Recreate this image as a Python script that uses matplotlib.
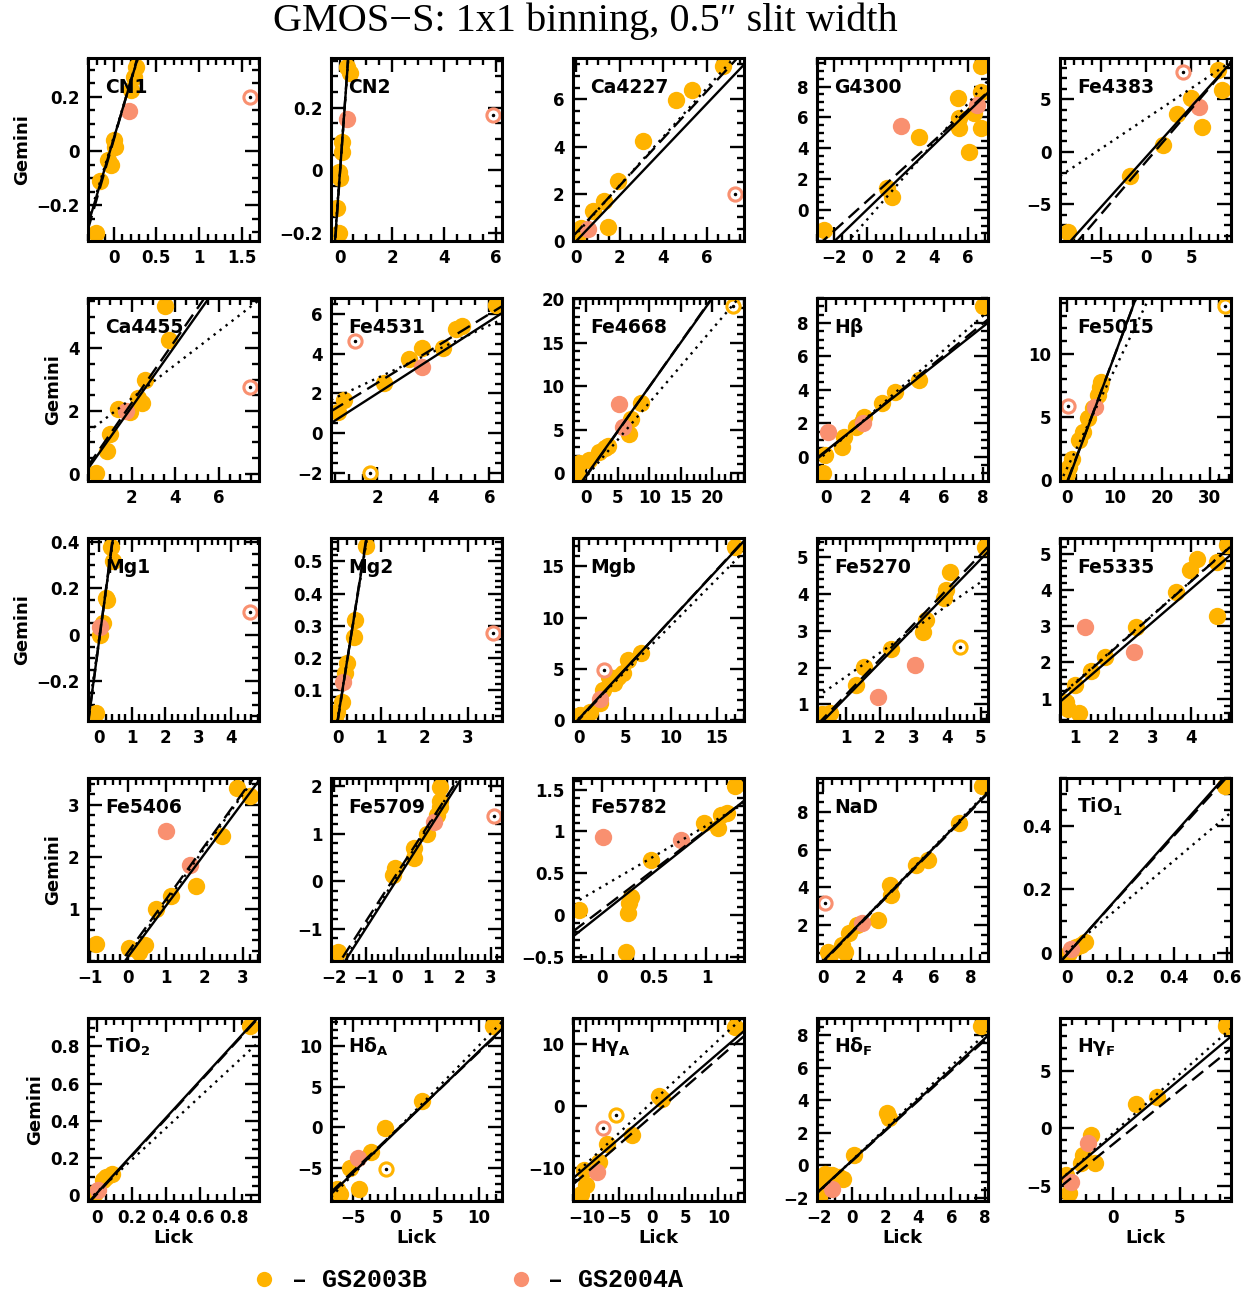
import matplotlib
matplotlib.use("Agg")
import numpy as np
import matplotlib.pyplot as plt
from matplotlib.lines import Line2D
from matplotlib.ticker import AutoMinorLocator, FuncFormatter

# Panel names and axis set-up
names = ["CN1", "CN2", "Ca4227", "G4300", "Fe4383",
         "Ca4455", "Fe4531", "Fe4668", "Hβ", "Fe5015",
         "Mg1", "Mg2", "Mgb", "Fe5270", "Fe5335",
         "Fe5406", "Fe5709", "Fe5782", "NaD", r"TiO$_\mathbf{1}$",
         r"TiO$_\mathbf{2}$", r"Hδ$_\mathbf{A}$", r"Hγ$_\mathbf{A}$", r"Hδ$_\mathbf{F}$", r"Hγ$_\mathbf{F}$"]

xlims = [(-0.3, 1.7), (-0.35, 6.24), (-0.15, 7.7), (-3.0, 7.2), (-9.6, 9.4),
         (0.0, 7.85), (0.35, 6.45), (-2.1, 25.0), (-0.45, 8.25), (-1.4, 34.5),
         (-0.33, 4.83), (-0.17, 3.8), (-0.7, 18.0), (0.13, 5.22), (0.6, 5.05),
         (-1.05, 3.43), (-2.1, 3.35), (-0.28, 1.36), (-0.33, 8.93), (-0.025, 0.615),
         (-0.055, 0.947), (-7.65, 12.75), (-12.0, 13.9), (-2.1, 8.2), (-3.93, 8.83)]
ylims = [(-0.333, 0.344), (-0.225, 0.358), (0.0, 7.75), (-2.0, 9.85), (-8.5, 8.95),
         (-0.23, 5.6), (-2.4, 6.8), (-0.9, 20.15), (-1.45, 9.5), (-0.05, 14.4),
         (-0.37, 0.417), (0.004, 0.573), (-0.07, 17.77), (0.55, 5.52), (0.38, 5.44),
         (0.0, 3.51), (-1.68, 2.17), (-0.55, 1.64), (0.1, 9.79), (-0.025, 0.55),
         (-0.03, 0.953), (-9.1, 13.5), (-15.3, 14.1), (-2.2, 9.07), (-6.3, 9.57)]
xticks = [[0, 0.5, 1, 1.5], [0, 2, 4, 6], [0, 2, 4, 6], [-2, 0, 2, 4, 6], [-5, 0, 5],
          [2, 4, 6], [2, 4, 6], [0, 5, 10, 15, 20], [0, 2, 4, 6, 8], [0, 10, 20, 30],
          [0, 1, 2, 3, 4], [0, 1, 2, 3], [0, 5, 10, 15], [1, 2, 3, 4, 5], [1, 2, 3, 4],
          [-1, 0, 1, 2, 3], [-2, -1, 0, 1, 2, 3], [0, 0.5, 1], [0, 2, 4, 6, 8], [0, 0.2, 0.4, 0.6],
          [0, 0.2, 0.4, 0.6, 0.8], [-5, 0, 5, 10], [-10, -5, 0, 5, 10], [-2, 0, 2, 4, 6, 8], [0, 5]]
yticks = [[-0.2, 0, 0.2], [-0.2, 0, 0.2], [0, 2, 4, 6], [0, 2, 4, 6, 8], [-5, 0, 5],
          [0, 2, 4], [-2, 0, 2, 4, 6], [0, 5, 10, 15, 20], [0, 2, 4, 6, 8], [0, 5, 10],
          [-0.2, 0, 0.2, 0.4], [0.1, 0.2, 0.3, 0.4, 0.5], [0, 5, 10, 15], [1, 2, 3, 4, 5], [1, 2, 3, 4, 5],
          [1, 2, 3], [-1, 0, 1, 2], [-0.5, 0, 0.5, 1, 1.5], [2, 4, 6, 8], [0, 0.2, 0.4],
          [0, 0.2, 0.4, 0.6, 0.8], [-5, 0, 5, 10], [-10, 0, 10], [-2, 0, 2, 4, 6, 8], [-5, 0, 5]]

# GS2003B (Lick, Gemini)
gs03_x = [[-0.21, -0.16, -0.07, -0.035, 0.0, 0.02, 0.2, 0.24, 0.26],
          [-0.06, -0.1, 0.0, -0.05, 0.07, 0.07, 0.26, 0.38],
          [0.1, 0.2, 0.75, 1.28, 1.46, 1.93, 3.06, 4.56, 5.31, 6.75],
          [-2.61, 1.16, 1.5, 3.07, 5.43, 5.48, 5.48, 6.05, 6.34, 6.76, 6.76, 6.76],
          [-8.68, -1.84, 1.84, 3.42, 5.0, 6.16, 7.9, 8.42],
          [0.35, 0.85, 1.0, 1.39, 1.95, 2.29, 2.49, 2.61, 3.53, 3.74],
          [0.61, 0.81, 2.24, 3.15, 3.6, 4.33, 4.81, 5.03, 6.24],
          [-1.5, -1.1, 0.5, 2.0, 2.96, 3.48, 6.81, 7.04, 8.67],
          [-0.17, -0.05, 0.8, 0.93, 1.54, 1.83, 1.95, 2.88, 3.54, 4.76, 8.0],
          [0.0, 0.5, 1.2, 2.5, 3.5, 4.5, 5.5, 6.5, 7.0, 7.2],
          [-0.08, 0.02, 0.12, 0.22, 0.25, 0.35, 0.42],
          [-0.08, -0.04, 0.08, 0.16, 0.19, 0.36, 0.39, 0.64],
          [0.06, 1.19, 2.2, 2.61, 3.22, 3.73, 4.24, 4.75, 5.26, 6.69, 16.98],
          [0.29, 0.53, 1.28, 1.52, 2.33, 3.3, 3.37, 3.9, 3.97, 4.08, 5.12],
          [0.76, 0.82, 0.99, 1.1, 1.41, 1.78, 2.59, 3.62, 3.99, 4.16, 4.68, 4.68, 4.95],
          [-0.84, 0.03, 0.29, 0.44, 0.72, 1.13, 1.79, 2.45, 2.86, 3.19],
          [-1.89, -0.11, -0.05, 0.53, 0.53, 0.96, 1.28, 1.38, 1.36, 1.36],
          [-0.22, 0.23, 0.25, 0.26, 0.28, 0.47, 0.98, 1.11, 1.14, 1.2, 1.27],
          [0.26, 0.4, 1.03, 1.16, 1.42, 1.86, 2.97, 3.61, 3.66, 5.03, 5.68, 7.35, 8.59],
          [0.007, 0.034, 0.052, 0.07, 0.594],
          [-0.016, 0.033, 0.053, 0.088, 0.892],
          [-6.94, -6.55, -5.36, -4.29, -2.86, -1.19, 3.17, 11.7],
          [-10.8, -10.1, -10.4, -8.12, -6.92, -3.04, 0.99, 1.55, 12.49],
          [-1.99, -1.78, -1.64, -1.21, -0.78, -0.55, 0.14, 2.1, 2.24, 7.8],
          [-3.47, -3.29, -2.4, -2.22, -1.58, -1.33, 1.77, 3.3, 8.47]]
gs03_y = [[-0.303, -0.11, -0.033, -0.052, 0.04, 0.016, 0.226, 0.275, 0.31],
          [-0.198, -0.12, -0.025, -0.005, 0.058, 0.09, 0.33, 0.31],
          [0.3, 0.55, 1.26, 1.71, 0.6, 2.56, 4.22, 5.99, 6.41, 7.43],
          [-1.3, 1.4, 0.86, 4.76, 7.24, 5.95, 5.3, 3.78, 6.27, 9.3, 7.68, 5.3],
          [-7.67, -2.33, 0.7, 3.61, 5.1, 2.33, 7.83, 5.91],
          [0.03, 0.71, 1.26, 2.06, 1.97, 2.43, 2.24, 2.99, 5.33, 4.27],
          [1.09, 1.68, 2.52, 3.75, 4.29, 4.29, 5.24, 5.38, 6.47],
          [-0.23, 1.2, 1.5, 2.46, 2.92, 3.15, 4.5, 6.19, 8.04],
          [-0.96, 0.1, 0.6, 1.2, 1.8, 2.1, 2.4, 3.2, 3.9, 4.6, 9.0],
          [0.53, 1.06, 1.72, 3.17, 3.84, 4.9, 5.69, 6.75, 7.4, 7.8],
          [-0.335, 0.0, 0.05, 0.16, 0.15, 0.38, 0.32],
          [0.017, 0.032, 0.064, 0.152, 0.183, 0.266, 0.318, 0.547],
          [0.49, 0.82, 1.7, 2.93, 4.24, 3.59, 4.24, 4.57, 5.87, 6.59, 16.9],
          [0.75, 0.77, 1.52, 2.02, 2.5, 2.97, 3.29, 3.88, 4.11, 4.61, 5.27],
          [0.91, 0.72, 1.37, 0.6, 1.77, 2.15, 2.98, 3.95, 4.55, 4.87, 3.27, 4.79, 5.25],
          [0.32, 0.25, 0.17, 0.3, 1.0, 1.24, 1.43, 2.4, 3.32, 3.16],
          [-1.49, 0.13, 0.27, 0.48, 0.69, 0.99, 1.39, 1.68, 1.57, 1.98],
          [0.06, -0.44, 0.02, 0.14, 0.22, 0.66, 1.1, 1.04, 1.2, 1.22, 1.55],
          [0.58, 0.44, 0.97, 0.58, 1.56, 2.0, 2.27, 4.12, 3.59, 5.19, 5.45, 7.43, 9.35],
          [0.0, 0.019, 0.024, 0.035, 0.524],
          [0.013, 0.081, 0.099, 0.113, 0.908],
          [-7.56, -8.18, -5.08, -7.56, -3.02, -0.04, 3.31, 12.48],
          [-14.2, -12.7, -10.3, -9.1, -6.1, -4.7, 1.5, 1.08, 12.7],
          [-1.96, -1.34, -0.52, -0.62, -0.72, -0.82, 0.62, 3.2, 2.89, 8.6],
          [-4.06, -5.59, -2.99, -2.32, -0.58, -2.99, 2.12, 2.75, 8.84]]

# GS2004A (Lick, Gemini)
gs04_x = [[0.18], [0.26], [0.54], [2.0, 6.56], [5.79],
          [1.73], [3.6], [5.19, 5.85], [0.12, 1.9], [6.0],
          [0.02], [0.12], [2.2], [1.95, 3.04], [1.26, 2.53],
          [1.0, 1.61], [1.19], [0.006, 0.76], [2.12], [0.016],
          [0.004], [-4.48], [-8.33], [-1.21], [-3.11, -1.86]]
gs04_y = [[0.148], [0.165], [0.5], [5.47, 6.81], [4.31],
          [2.0], [3.33], [7.92, 5.27], [1.5, 2.0], [5.82],
          [0.033], [0.126], [2.12], [1.2, 2.08], [2.99, 2.29],
          [2.5, 1.84], [1.25], [0.93, 0.9], [2.09], [0.014],
          [0.027], [-3.84], [-10.6], [-1.44], [-4.64, -1.25]]

# rejected points (open circles): panel index, x, y, run (0 = GS2003B, 1 = GS2004A)
rej_panel = [0, 1, 2, 4, 5, 6, 6, 7, 9, 9, 10, 11, 12, 13, 16, 18, 21, 22, 22]
rej_x = [1.6, 5.88, 7.28, 4.1, 7.45, 1.21, 1.73, 23.33, 0.3, 33.3, 4.57, 3.6, 2.71, 4.4, 3.09, 0.08, -1.11, -7.41, -5.51]
rej_y = [0.2, 0.176, 2.0, 7.6, 2.77, 4.62, -1.98, 19.19, 5.87, 13.76, 0.1, 0.277, 4.89, 2.57, 1.37, 3.15, -5.17, -3.6, -1.45]
rej_run = [1, 1, 1, 1, 1, 1, 0, 0, 1, 0, 1, 1, 1, 0, 1, 1, 0, 1, 0]

# linear relations (slope, intercept)
fit_solid = [(1.06, 0.045), (1.14, 0.0), (0.97, 0.0), (1.05, 0.05), (0.955, -0.45),
             (0.98, 0.16), (0.907, 0.19), (1.02, -0.25), (0.93, 0.35), (1.01, -0.3),
             (1.05, -0.03), (0.84, 0.02), (0.96, 0.2), (0.936, 0.26), (0.915, 0.36),
             (0.986, 0.08), (1.035, 0.03), (0.99, 0.02), (1.0, 0.1), (0.946, -0.006),
             (1.0, 0.015), (1.0, -0.6), (0.914, -0.7), (0.94, 0.28), (0.976, -0.65)]
fit_dash = [(1.1, 0.04), (1.18, -0.005), (1.0, 0.35), (0.98, 0.6), (1.0, -0.9),
            (1.0, 0.25), (0.866, 0.8), (1.03, -0.35), (0.96, 0.3), (1.0, -0.2),
            (1.08, -0.03), (0.86, 0.015), (0.97, 0.1), (0.95, 0.32), (0.935, 0.49),
            (1.017, 0.17), (1.02, 0.16), (0.95, 0.07), (1.0, 0.05), (0.93, -0.005),
            (1.0, 0.01), (0.98, -0.5), (0.92, -1.6), (0.93, 0.25), (0.94, -1.4)]
fit_dot = [(1.03, 0.05), (1.1, 0.005), (1.03, 0.3), (1.25, -0.6), (0.574, 3.2),
           (0.535, 1.33), (0.663, 1.45), (0.85, -0.4), (1.03, 0.2), (0.78, 0.9),
           (1.0, -0.02), (0.82, 0.025), (0.9, 0.24), (0.64, 1.12), (0.93, 0.52),
           (1.03, 0.1), (1.05, 0.1), (0.73, 0.34), (1.01, 0.08), (0.71, 0.005),
           (0.85, 0.02), (1.06, -0.5), (0.99, 0.6), (0.97, 0.3), (1.03, -0.44)]

run_labels = ["– GS2003B", "– GS2004A"]
run_colors = ["#FFB300", "#F99070"]

plt.rcParams["font.family"] = "DejaVu Sans"
plt.rcParams["font.weight"] = "bold"
plt.rcParams["mathtext.fontset"] = "dejavusans"
plt.rcParams["axes.linewidth"] = 2.2

W, H = 1255, 1298
fig = plt.figure(figsize=(W / 100, H / 100), dpi=100)

col_left = [88, 331, 573, 817, 1060]
row_top = [58, 298, 538, 778, 1018]
box_w, box_h = 171, 183


def fmt(v, _pos):
    s = "%g" % round(v, 6)
    return s.replace("-", "\u2212")


for i, name in enumerate(names):
    r, c = divmod(i, 5)
    ax = fig.add_axes([col_left[c] / W, 1 - (row_top[r] + box_h) / H, box_w / W, box_h / H])
    ax.plot(gs03_x[i], gs03_y[i], "o", color=run_colors[0], ms=12.5, mew=0, zorder=2)
    ax.plot(gs04_x[i], gs04_y[i], "o", color=run_colors[1], ms=12.5, mew=0, zorder=2)
    for p, x, y, k in zip(rej_panel, rej_x, rej_y, rej_run):
        if p == i:
            ax.plot(x, y, "o", mfc="white", mec=run_colors[k], ms=9.5, mew=2.2, zorder=2)
            ax.plot(x, y, "o", color="black", ms=1.5, zorder=2)

    xx = np.array(xlims[i])
    for (m, b), ls in zip([fit_solid[i], fit_dash[i], fit_dot[i]],
                          ["-", (0, (6, 3)), (0, (1, 2.2))]):
        ax.plot(xx, m * xx + b, color="black", lw=1.7, ls=ls, zorder=3)

    ax.set_xlim(xlims[i])
    ax.set_ylim(ylims[i])
    ax.set_xticks(xticks[i])
    ax.set_yticks(yticks[i])
    ax.xaxis.set_major_formatter(FuncFormatter(fmt))
    ax.yaxis.set_major_formatter(FuncFormatter(fmt))
    ax.xaxis.set_minor_locator(AutoMinorLocator())
    ax.yaxis.set_minor_locator(AutoMinorLocator())
    ax.tick_params(which="both", direction="in", top=True, right=True, width=1.7, labelsize=12)
    ax.tick_params(which="major", length=10, pad=6)
    ax.tick_params(which="minor", length=5)

    ax.text(0.1, 0.84, name, transform=ax.transAxes, fontsize=13.5, fontweight="bold",
            ha="left", va="center", zorder=4)
    if c == 0:
        ax.set_ylabel("Gemini", fontsize=13, fontweight="bold")
    if r == 4:
        ax.set_xlabel("Lick", fontsize=13, fontweight="bold", labelpad=1)

fig.suptitle("GMOS\u2212S: 1x1 binning, 0.5\u2033 slit width", x=0.466, y=0.998,
             fontsize=29, fontweight="normal", family="Liberation Serif", va="top")

handles = [Line2D([], [], ls="none", marker="o", ms=11, mew=0, color=col) for col in run_colors]
fig.legend(handles, run_labels, loc="center", bbox_to_anchor=(0.372, 0.0135), ncol=2,
           frameon=False, handletextpad=0.55, handlelength=1.1, columnspacing=3.2,
           prop={"family": "Liberation Mono", "weight": "bold", "size": 18})

fig.savefig("out.png", dpi=100)
